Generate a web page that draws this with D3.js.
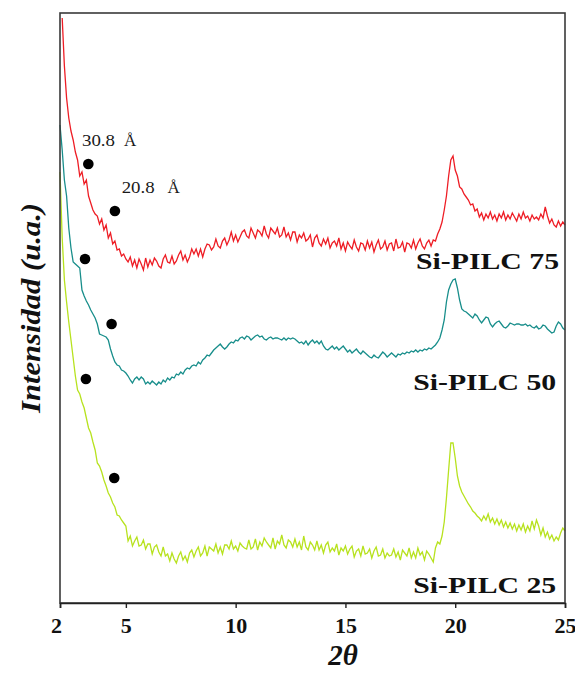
<!DOCTYPE html>
<html>
<head>
<meta charset="utf-8">
<script src="https://cdn.jsdelivr.net/npm/d3@7"></script>
<style>
  body { margin: 0; background: #fff; }
  svg { display: block; }
</style>
</head>
<body>
<svg id="chart" width="575" height="673"></svg>
<script>
// XRD patterns of Si-pillared clays (step scan, 0.1° 2θ)
const ANGLE_STEP = 0.1;

const si75Start = 2.1;
const si75 = [
  585,537,505,485,472,463,451,443,427,431,
  419,423,407,400,393,389,387,379,384,373,
  378,365,370,359,362,353,354,347,349,344,
  341,346,337,343,335,344,339,333,345,336,
  343,338,345,342,337,335,344,348,341,340,
  347,339,342,348,352,343,348,341,346,354,
  349,354,347,354,346,354,359,358,353,356,
  364,357,355,362,365,358,363,371,362,368,
  361,366,371,373,367,365,375,370,365,373,
  371,367,377,369,365,375,372,369,375,366,
  368,376,366,370,363,371,371,361,368,365,
  370,362,364,368,356,365,368,360,357,364,
  359,365,355,360,362,357,365,354,360,352,
  361,357,354,363,356,352,360,359,353,362,
  355,361,351,358,363,354,356,362,353,359,
  360,352,364,355,356,361,351,360,359,355,
  363,354,360,364,357,354,360,363,357,363,
  362,369,374,381,393,407,427,443,447,433,
  427,416,414,409,406,403,398,399,392,394,
  386,390,383,389,385,391,384,388,382,389,
  385,391,383,388,384,390,386,382,389,384,
  391,385,387,382,388,384,386,383,389,385,
  396,387,380,384,378,376,382,377,381,378
];

const si50Start = 2.0;
const si50 = [
  478,453,423,407,375,355,341,339,337,335,
  313,307,302,298,293,289,285,279,269,268,
  267,266,263,254,247,241,238,237,233,232,
  230,227,223,220,224,226,223,226,224,219,
  221,219,222,220,218,221,219,223,221,225,
  223,226,225,229,228,231,229,233,235,234,
  237,238,237,241,239,243,245,248,247,250,
  253,255,257,259,256,254,256,259,261,260,
  263,262,265,266,264,267,266,263,265,267,
  268,266,267,264,263,265,266,264,265,265,
  264,263,265,263,265,264,265,264,262,260,
  261,259,262,258,261,263,260,262,259,262,
  257,254,253,255,257,254,256,253,255,257,
  254,251,253,250,252,254,251,249,252,250,
  248,246,245,248,246,245,248,251,249,246,
  248,250,248,246,249,248,250,249,251,250,
  252,251,253,251,253,252,254,253,255,254,
  256,258,261,265,273,283,301,313,319,323,
  324,315,303,294,292,291,289,287,285,289,
  287,283,280,283,286,285,279,276,279,281,
  282,279,276,275,277,280,279,278,279,279,
  278,278,279,277,278,276,275,277,274,275,
  278,277,274,272,270,271,277,281,279,275,
  273
];

const si25Start = 2.0;
const si25 = [
  431,365,323,301,281,263,245,227,213,209,
  201,195,185,175,170,161,153,140,137,131,
  123,117,110,106,100,96,88,87,83,80,
  77,62,67,57,62,66,57,58,63,54,
  59,59,49,56,58,51,47,56,47,49,
  42,50,44,40,47,51,43,47,41,50,
  53,46,52,56,47,50,57,47,56,54,
  52,59,50,56,49,58,58,54,62,54,
  57,52,60,57,55,54,63,54,56,64,
  53,61,57,65,61,58,55,65,54,62,
  59,68,58,55,63,61,56,64,56,61,
  53,67,56,53,61,58,53,62,53,58,
  50,58,61,51,55,52,59,48,55,52,
  57,49,54,57,46,52,54,47,57,49,
  50,54,45,52,56,47,48,54,45,50,
  47,48,54,46,51,43,53,50,47,55,
  45,51,45,55,48,51,43,52,49,45,
  41,55,61,59,67,81,105,133,160,160,
  145,127,117,111,107,103,99,96,92,90,
  87,85,82,87,83,89,81,85,79,84,
  78,83,76,81,75,80,74,79,72,78,
  73,79,71,77,72,82,74,83,77,68,
  75,66,71,64,68,62,66,63,70,75,
  72
];

const seriesNames = ["Si-PILC 75", "Si-PILC 50", "Si-PILC 25"];
const xTickValues = [2, 5, 10, 15, 20, 25];

// basal reflections marked on each pattern: [2θ, intensity]
const peakMarks75 = [[3.29, 439], [4.50, 392]];
const peakMarks50 = [[3.14, 344], [4.35, 279]];
const peakMarks25 = [[3.18, 224], [4.47, 125]];
const spacingLabels = ["30.8", "20.8"];

// ---- layout and style ----
const plot = { left: 60, right: 565, top: 13, bottom: 603 };
const serif = "'Liberation Serif', 'Times New Roman', Times, serif";
const colors = ["#ee1d25", "#188e8b", "#b7e21e"];

const svg = d3.select("#chart");

const x = d3.scaleLinear().domain([2, 25]).range([plot.left, plot.right]);
const y = d3.scaleLinear().domain([0, 590]).range([plot.bottom, plot.top]);

const toPoints = (start, vals) =>
  vals.map((v, i) => ({ t: +(start + i * ANGLE_STEP).toFixed(2), v }));

const series = [
  { name: seriesNames[0], pts: toPoints(si75Start, si75), marks: peakMarks75, color: colors[0],
    label: { t: 24.73, v: 334 } },
  { name: seriesNames[1], pts: toPoints(si50Start, si50), marks: peakMarks50, color: colors[1],
    label: { t: 24.6, v: 213 } },
  { name: seriesNames[2], pts: toPoints(si25Start, si25), marks: peakMarks25, color: colors[2],
    label: { t: 24.6, v: 10 } }
];

const line = d3.line().x(d => x(d.t)).y(d => y(d.v));

// patterns
series.forEach(s => {
  svg.append("path")
    .datum(s.pts)
    .attr("fill", "none")
    .attr("stroke", s.color)
    .attr("stroke-width", 1.3)
    .attr("stroke-linejoin", "miter")
    .attr("d", line);
});

// frame
svg.append("rect")
  .attr("x", plot.left).attr("y", plot.top)
  .attr("width", plot.right - plot.left).attr("height", plot.bottom - plot.top)
  .attr("fill", "none").attr("stroke", "#3a3a3a").attr("stroke-width", 1.6);

// bottom axis
const xAxis = svg.append("g")
  .attr("transform", `translate(0,${plot.bottom})`)
  .call(d3.axisBottom(x).tickValues(xTickValues).tickSize(5).tickPadding(9).tickFormat(d3.format("d")));
xAxis.select(".domain").attr("stroke", "#222").attr("stroke-width", 1.6);
xAxis.selectAll(".tick line").attr("stroke", "#222").attr("stroke-width", 1.4);
xAxis.selectAll(".tick text")
  .attr("fill", "#111")
  .style("font-family", serif)
  .style("font-weight", "bold")
  .style("font-size", "22px");
xAxis.selectAll(".tick").filter(d => d === 2).select("text").attr("dx", "-4");

// peak markers
series.forEach(s => {
  svg.append("g").selectAll("circle")
    .data(s.marks)
    .join("circle")
    .attr("cx", d => x(d[0]))
    .attr("cy", d => y(d[1]))
    .attr("r", 5.3)
    .attr("fill", "#000");
});

// d-spacing annotations
const spacingPos = [
  { t: 3.0, v: 457, unitT: 4.91 },
  { t: 4.81, v: 410, unitT: 6.90 }
];
spacingLabels.forEach((lab, i) => {
  const p = spacingPos[i];
  svg.append("text")
    .attr("x", x(p.t)).attr("y", y(p.v))
    .attr("font-family", serif).attr("font-size", 17).attr("fill", "#1a1a1a")
    .attr("textLength", 33).attr("lengthAdjust", "spacingAndGlyphs")
    .text(lab);
  svg.append("text")
    .attr("x", x(p.unitT)).attr("y", y(p.v))
    .attr("font-family", serif).attr("font-size", 17).attr("fill", "#1a1a1a")
    .text("Å");
});

// series labels
series.forEach(s => {
  svg.append("text")
    .attr("x", x(s.label.t)).attr("y", y(s.label.v))
    .attr("text-anchor", "end")
    .attr("font-family", serif).attr("font-weight", "bold").attr("font-size", 24)
    .attr("fill", "#111")
    .attr("textLength", 143).attr("lengthAdjust", "spacingAndGlyphs")
    .text(s.name);
});

// axis titles
svg.append("text")
  .attr("x", 343).attr("y", 665)
  .attr("text-anchor", "middle")
  .attr("font-family", serif).attr("font-weight", "bold").attr("font-style", "italic")
  .attr("font-size", 29).attr("fill", "#111")
  .text("2θ");

svg.append("text")
  .attr("transform", "translate(40,308) rotate(-90)")
  .attr("text-anchor", "middle")
  .attr("font-family", serif).attr("font-weight", "bold").attr("font-style", "italic")
  .attr("font-size", 28).attr("fill", "#111")
  .attr("textLength", 210).attr("lengthAdjust", "spacingAndGlyphs")
  .text("Intensidad (u.a.)");
</script>
</body>
</html>
